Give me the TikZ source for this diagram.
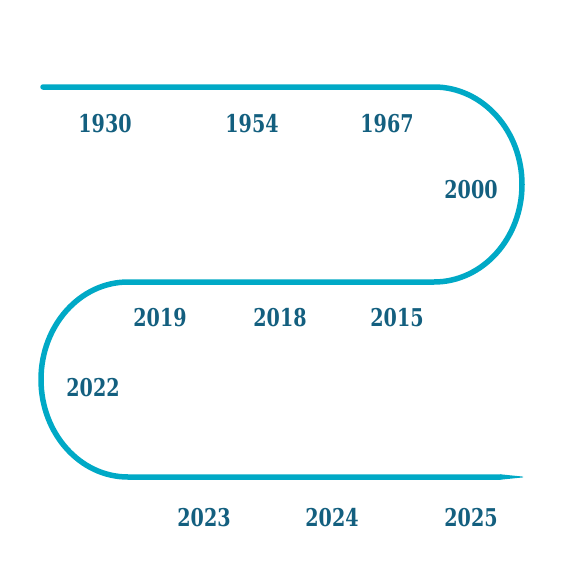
\documentclass[tikz,border=0pt]{standalone}
\usepackage{fontspec}
\newfontfamily\yearfont[FakeStretch=0.78]{DejaVu Serif}
\definecolor{pathcol}{HTML}{00A9C6}
\definecolor{textcol}{HTML}{135F7F}
\begin{document}
\begin{tikzpicture}[x=1pt,y=-1pt,
  yearlabel/.style={text=textcol,font=\yearfont\bfseries\fontsize{24.5}{27}\selectfont,inner sep=0pt},
  track/.style={draw=pathcol,line width=5.5pt,line cap=round,line join=round}]
\useasboundingbox[fill=white] (0,0) rectangle (565,565);
\coordinate (s) at (43,87);
\coordinate (e) at (500,477);
\draw[track] (s) -- (434,87)
  arc[start angle=-90,end angle=90,x radius=88,y radius=97.5]
  -- (128,282)
  arc[start angle=270,end angle=90,x radius=87,y radius=97.5]
  -- (e);
\fill[pathcol] (500,474.25) -- (523,476.6) -- (523,477.4) -- (500,479.75) -- cycle;
\node[yearlabel] (y1930) at (105,124) {1930};
\node[yearlabel] (y1954) at (252,124) {1954};
\node[yearlabel] (y1967) at (387,124) {1967};
\node[yearlabel] (y2000) at (471,190) {2000};
\node[yearlabel] (y2019) at (160,318) {2019};
\node[yearlabel] (y2018) at (280,318) {2018};
\node[yearlabel] (y2015) at (397,318) {2015};
\node[yearlabel] (y2022) at (93,388) {2022};
\node[yearlabel] (y2023) at (204,518) {2023};
\node[yearlabel] (y2024) at (332,518) {2024};
\node[yearlabel] (y2025) at (471,518) {2025};
\end{tikzpicture}
\end{document}
